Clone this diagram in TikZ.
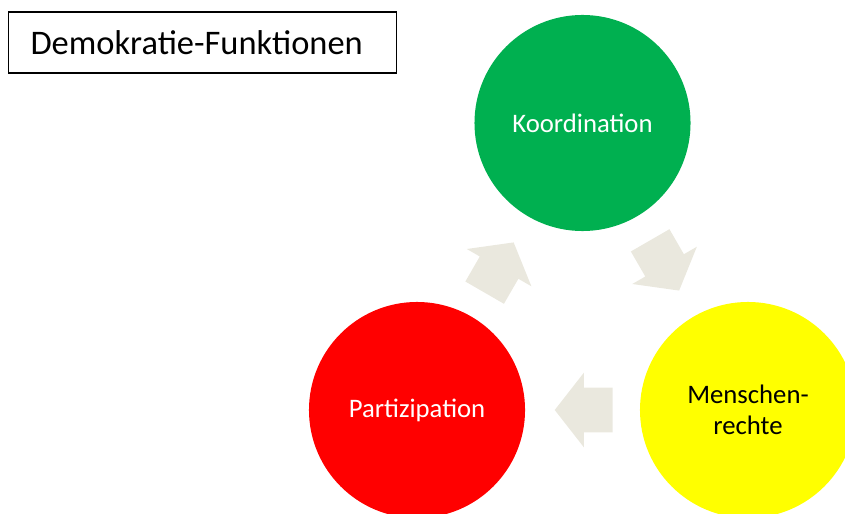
\documentclass[tikz,border=0pt]{standalone}
\usepackage{fontspec}
\setmainfont{Carlito}
\usepackage{tikz}
\usetikzlibrary{calc,shapes.arrows}
\definecolor{koordgreen}{HTML}{00B050}
\definecolor{partred}{HTML}{FF0000}
\definecolor{rechtyellow}{HTML}{FFFF00}
\definecolor{flowgray}{HTML}{EAE8DE}
\tikzset{
  topic/.style={circle, minimum size=5.4cm, inner sep=0pt, align=center,
    font=\fontsize{19}{21.6}\selectfont},
  flow/.style={single arrow, fill=flowgray, draw=none, inner xsep=0pt,
    inner ysep=0.55cm, minimum height=1.45cm, anchor=tip,
    single arrow head extend=0.375cm, single arrow tip angle=104},
}

\begin{document}
\begin{tikzpicture}[x=0.025cm, y=0.025cm]
        \useasboundingbox (0, 0) rectangle (845, 513);
        \clip (0, 0) rectangle (845, 513);

        % title box
        \node[draw, line width=0.75pt, anchor=west, inner xsep=0.55cm,
          text width=8.6cm, align=left, minimum height=1.525cm,
          font=\fontsize{24.5}{29}\selectfont] (title) at (8, 470.5) {Demokratie-Funktionen};

        % the three functions
        \node[topic, fill=koordgreen, text=white] (koord) at (582.5, 390) {Koordination};
        \node[topic, fill=partred, text=white] (part) at (417, 103) {Partizipation};
        \node[topic, fill=rechtyellow, text=black] (recht) at (748, 103) {Menschen-\\rechte};

        % cycle arrows
        \node[flow, rotate=60] (p2k) at ($(part)!0.585!(koord)$) {};
        \node[flow, rotate=-60] (k2r) at ($(koord)!0.585!(recht)$) {};
        \node[flow, rotate=180] (r2p) at ($(recht)!0.585!(part)$) {};
      \end{tikzpicture}
\end{document}
